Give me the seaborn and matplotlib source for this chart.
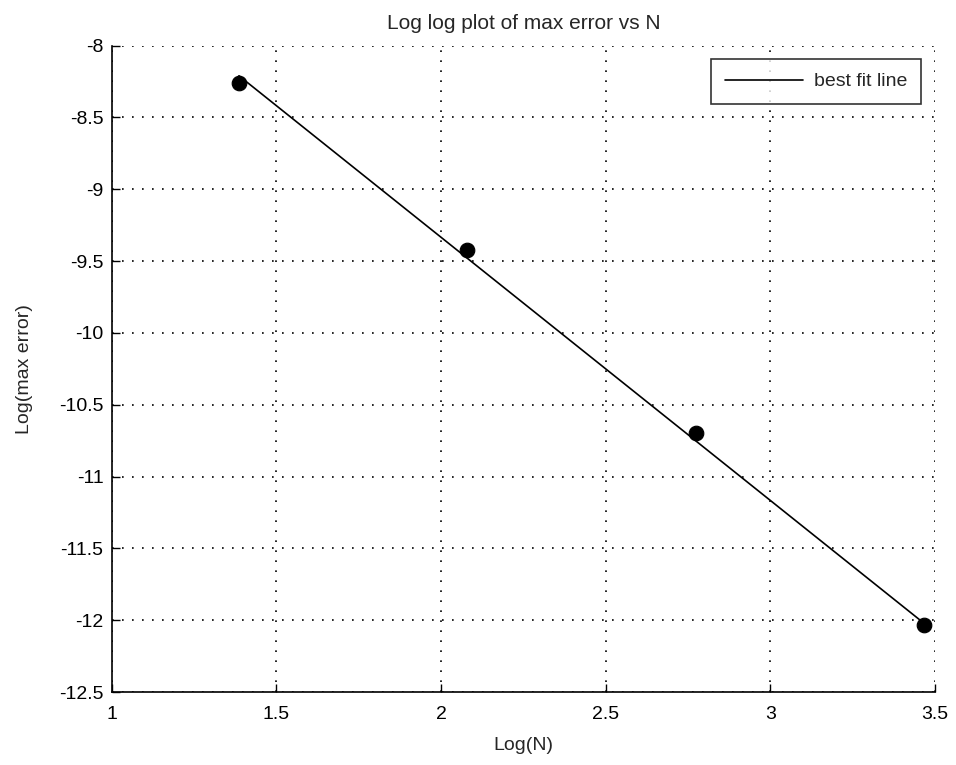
import numpy as np
import pandas as pd
import matplotlib
matplotlib.use("Agg")
import matplotlib.pyplot as plt
import seaborn as sns

log_n = [1.386, 2.079, 2.773, 3.466]
log_err = [-8.26, -9.42, -10.70, -12.03]
fit_x = [1.386, 3.466]
fit_y = [-8.21, -12.02]
x_ticks = [1, 1.5, 2, 2.5, 3, 3.5]
y_ticks = [-12.5, -12, -11.5, -11, -10.5, -10, -9.5, -9, -8.5, -8]

sns.set_style("white")
plt.rcParams['font.family'] = ['Liberation Sans', 'DejaVu Sans']

fig = plt.figure(figsize=(9.56, 7.65), dpi=100)
ax = fig.add_axes([0.117, 0.0954, 0.861, 0.845])

pts = pd.DataFrame({"x": log_n, "y": log_err})
fit = pd.DataFrame({"x": fit_x, "y": fit_y})

sns.lineplot(data=fit, x="x", y="y", ax=ax, color="black", linewidth=1.2,
             label="best fit line")
sns.scatterplot(data=pts, x="x", y="y", ax=ax, color="black", s=110,
                edgecolor="black", zorder=5, legend=False)

ax.set_xlim(1, 3.5)
ax.set_ylim(-12.5, -8)
ax.set_xticks(x_ticks)
ax.set_xticklabels([f"{t:g}" for t in x_ticks])
ax.set_yticks(y_ticks)
ax.set_yticklabels([f"{t:g}" for t in y_ticks])
ax.grid(True, linestyle=(0, (1, 5)), color="black", linewidth=1.2)
for s in ["top", "right"]:
    ax.spines[s].set_visible(False)
for s in ["left", "bottom"]:
    ax.spines[s].set_color("black")
    ax.spines[s].set_linewidth(1.2)
ax.tick_params(direction="in", length=6, labelsize=14, colors="black",
               left=True, bottom=True, width=1)
ax.tick_params(axis="x", pad=10)
ax.tick_params(axis="y", pad=6)
ax.set_xlabel("Log(N)", fontsize=14, labelpad=10)
ax.set_ylabel("Log(max error)", fontsize=14, labelpad=19)
ax.set_title("Log log plot of max error vs N", fontsize=15, pad=12)

leg = ax.legend(loc="upper right", fontsize=14, frameon=True, fancybox=False,
                borderaxespad=0.7, handlelength=4, borderpad=0.7,
                handletextpad=0.6)
leg.get_frame().set_edgecolor("black")
leg.get_frame().set_linewidth(1.2)

fig.savefig("out.png", dpi=100)
